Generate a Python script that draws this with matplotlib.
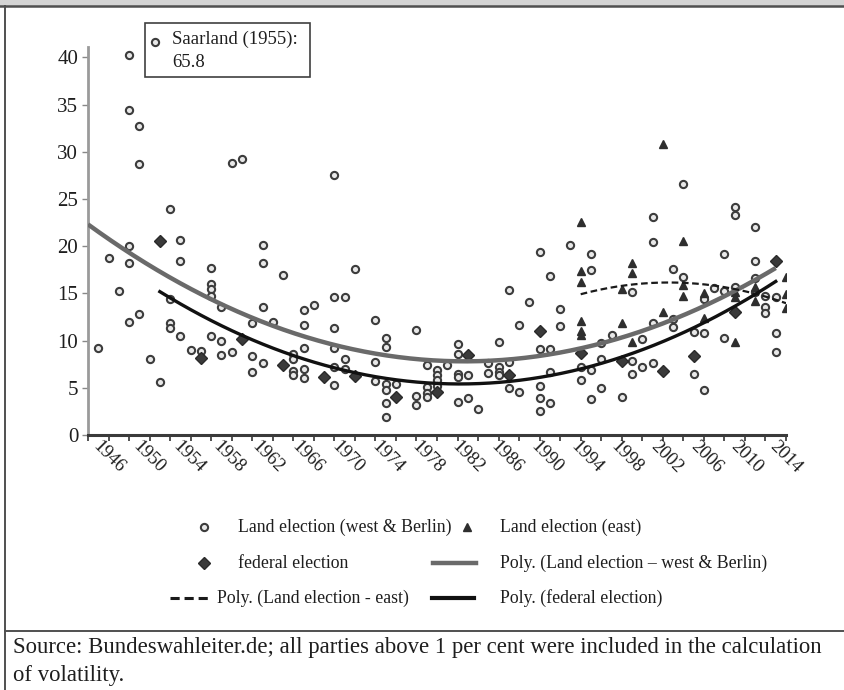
import numpy as np
import matplotlib.pyplot as plt
from matplotlib.patches import Rectangle
from matplotlib.transforms import offset_copy

plt.rcParams['font.family'] = ['Liberation Serif', 'DejaVu Serif']

# Land elections, west & Berlin (year, volatility)
west_years = [1947, 1948, 1949,
              1950, 1950, 1950, 1950, 1950,
              1951, 1951, 1951, 1952, 1953,
              1954, 1954, 1954, 1954,
              1955, 1955, 1955, 1956, 1957,
              1958, 1958, 1958, 1958, 1958,
              1959, 1959, 1959, 1960, 1960, 1961,
              1962, 1962, 1962, 1963, 1963, 1963, 1963, 1964, 1965,
              1966, 1966, 1966, 1966,
              1967, 1967, 1967, 1967, 1967, 1968,
              1970, 1970, 1970, 1970, 1970, 1970,
              1971, 1971, 1971, 1972,
              1974, 1974, 1974,
              1975, 1975, 1975, 1975, 1975, 1975, 1976,
              1978, 1978, 1978, 1979, 1979, 1979, 1979,
              1980, 1980, 1980, 1980, 1981,
              1982, 1982, 1982, 1982, 1982, 1983, 1983, 1984,
              1985, 1985, 1986, 1986, 1986, 1986,
              1987, 1987, 1987, 1988, 1988, 1989,
              1990, 1990, 1990, 1990, 1990,
              1991, 1991, 1991, 1991, 1992, 1992, 1993,
              1994, 1994, 1995, 1995, 1995, 1995,
              1996, 1996, 1996, 1997, 1998,
              1999, 1999, 1999, 2000, 2000,
              2001, 2001, 2001, 2001,
              2003, 2003, 2003, 2004, 2004, 2005, 2005,
              2006, 2006, 2006, 2007, 2008, 2008, 2008,
              2009, 2009, 2009, 2011, 2011, 2011, 2011,
              2012, 2012, 2012, 2013, 2013, 2013]
west_vals = [9.2, 18.7, 15.3,
             40.2, 34.4, 20.0, 18.2, 12.0,
             32.7, 28.7, 12.8, 8.0, 5.6,
             23.9, 14.4, 11.9, 11.3,
             20.7, 18.4, 10.5, 9.0, 8.9,
             17.7, 16.0, 15.5, 14.7, 10.5,
             13.6, 10.0, 8.5, 28.8, 8.8, 29.2,
             11.9, 8.4, 6.7, 20.1, 18.2, 13.6, 7.6, 12.0, 16.9,
             8.6, 8.0, 6.8, 6.4,
             13.2, 11.6, 9.2, 7.0, 6.0, 13.8,
             27.5, 14.6, 11.3, 9.2, 7.2, 5.3,
             14.6, 8.1, 7.0, 17.6,
             12.2, 7.7, 5.7,
             10.3, 9.3, 5.4, 4.8, 3.4, 1.9, 5.4,
             11.1, 4.1, 3.2, 7.4, 5.1, 4.4, 4.0,
             6.9, 6.35, 5.8, 5.2, 7.4,
             9.6, 8.6, 6.5, 6.1, 3.5, 6.35, 3.9, 2.8,
             7.65, 6.6, 9.9, 7.2, 6.7, 6.4,
             15.4, 7.7, 5.0, 11.6, 4.6, 14.1,
             19.4, 9.1, 5.2, 3.9, 2.5,
             16.8, 9.1, 6.7, 3.35, 13.3, 11.5, 20.1,
             7.2, 5.8, 19.2, 17.5, 6.9, 3.8,
             9.7, 8.1, 5.0, 10.6, 4.0,
             15.1, 7.8, 6.45, 10.2, 7.2,
             23.1, 20.4, 11.9, 7.6,
             17.6, 12.3, 11.4, 26.6, 16.75, 10.9, 6.45,
             14.45, 10.8, 4.8, 15.6, 19.2, 15.3, 10.3,
             24.2, 23.3, 15.7, 22.0, 18.4, 16.6, 15.2,
             14.7, 13.6, 12.95, 14.65, 10.8, 8.75]

# Saarland 1955 lies far above the axis range
saar_year = 1955
saar_val = 65.8

# Land elections, east
east_years = [1994, 1994, 1994, 1994, 1994, 1994,
              1998, 1998, 1999, 1999, 1999,
              2002, 2002, 2004, 2004, 2004,
              2006, 2006, 2009, 2009, 2009,
              2011, 2011, 2014, 2014, 2014]
east_vals = [22.6, 17.4, 16.2, 12.05, 11.0, 10.6,
             15.5, 11.9, 18.2, 17.2, 9.9,
             30.8, 13.0, 20.6, 15.9, 14.75,
             15.0, 12.4, 15.2, 14.6, 9.9,
             15.7, 14.2, 16.75, 14.9, 13.4]

# federal elections
fed_years = [1953, 1957, 1961, 1965, 1969, 1972, 1976, 1980, 1983,
             1987, 1990, 1994, 1998, 2002, 2005, 2009, 2013]
fed_vals = [20.5, 8.2, 10.2, 7.4, 6.1, 6.2, 4.05, 4.6, 8.5,
            6.35, 11.0, 8.7, 7.8, 6.75, 8.4, 13.0, 18.4]

year_ticks = list(range(1946, 2015, 4))
y_ticks = [0, 5, 10, 15, 20, 25, 30, 35, 40]


def poly_trend(xs, ys, x0, x1):
    # 2nd order polynomial trend, like a spreadsheet "Poly." trendline
    xs = np.asarray(xs, float)
    ys = np.asarray(ys, float)
    c = np.polyfit(xs - 1980, ys, 2)
    xx = np.linspace(x0, x1, 300)
    return xx, np.polyval(c, xx - 1980)


W, H = 844, 690
fig = plt.figure(figsize=(W / 100, H / 100), dpi=100)

ax = fig.add_axes([88 / W, 1 - 435 / H, (786 - 88) / W, (435 - 47) / H])
ax.set_xlim(1946, 2014)
ax.set_ylim(0, 41.1)

circ = dict(marker='o', ms=5.2, mfc='#e8e8e8', mec='#3c3c3c', mew=1.5,
            ls='none', zorder=3)
tri = dict(marker='^', ms=6.2, mfc='#2e2e2e', mec='#2e2e2e', mew=1.0,
           ls='none', zorder=4)
dia = dict(marker='D', ms=6.0, mfc='#3a3a3a', mec='#2a2a2a', mew=1.0,
           ls='none', zorder=4)

ax.plot(west_years, west_vals, **circ)
ax.plot(east_years, east_vals, **tri)
ax.plot(fed_years, fed_vals, **dia)

# trend lines
wx, wy = poly_trend(west_years, west_vals, 1946, 2013)
ax.plot(wx, wy, color='#6a6a6a', lw=3.2, zorder=5, solid_capstyle='butt')
ex, ey = poly_trend(east_years, east_vals, 1994, 2014)
ax.plot(ex, ey, color='#1a1a1a', lw=1.6, ls=(0, (3, 1.6)), zorder=5)
fx, fy = poly_trend(fed_years, fed_vals, 1953, 2013)
ax.plot(fx, fy, color='#111111', lw=2.4, zorder=5)

ax.set_xticks(year_ticks)
ax.set_xticks(range(1946, 2015, 2), minor=True)
ax.set_xticklabels([])
ax.set_yticks(y_ticks)
ax.set_yticklabels([str(v) for v in y_ticks], fontsize=15, color='#1e1e1e')
ax.tick_params(axis='x', which='both', direction='out', length=4, width=1.2,
               color='#333333')
ax.tick_params(axis='y', direction='out', length=4, width=1.0, color='#888888',
               pad=3)

# slanted year labels, spread a little narrower than the ticks
xt = ax.get_xaxis_transform()
for i, yr in enumerate(year_ticks):
    dx = 21 - 21 * i / (len(year_ticks) - 1)
    tr = offset_copy(xt, fig=fig, x=dx, y=-22, units='dots')
    ax.text(yr, 0, str(yr), transform=tr, rotation=-45, ha='center',
            va='center', rotation_mode='anchor', fontsize=13.5,
            color='#1e1e1e')

for s in ['top', 'right']:
    ax.spines[s].set_visible(False)
ax.spines['left'].set_color('#9a9a9a')
ax.spines['left'].set_linewidth(2.0)
ax.spines['bottom'].set_color('#3a3a3a')
ax.spines['bottom'].set_linewidth(2.2)

# overlay in pixel coordinates for frame, note box and legend
ov = fig.add_axes([0, 0, 1, 1], zorder=10)
ov.set_xlim(0, W)
ov.set_ylim(H, 0)
ov.axis('off')
ov.patch.set_alpha(0)

ov.add_patch(Rectangle((0, 0), W, 5.5, facecolor='#d4d4d4', edgecolor='none'))
ov.plot([0, W], [5.5, 5.5], color='#505050', lw=1.8)
ov.plot([4.5, 4.5], [5.5, H], color='#505050', lw=1.4)
ov.plot([4.5, W], [631, 631], color='#505050', lw=1.4)

# Saarland note
ov.add_patch(Rectangle((145, 23), 165, 54, facecolor='white',
                       edgecolor='#404040', lw=1.2))
ov.plot([154.5], [42], **circ)
ov.text(172, 51, 'Saarland (1955):\n%.1f' % saar_val, fontsize=13.5,
        va='center', ha='left', color='#1e1e1e', linespacing=1.45)

# legend
leg_fs = 12.8
ov.plot([204], [527], **circ)
ov.text(238, 527, 'Land election (west & Berlin)', fontsize=leg_fs,
        va='center', color='#1e1e1e')
ov.plot([467], [527], **tri)
ov.text(500, 527, 'Land election (east)', fontsize=leg_fs, va='center',
        color='#1e1e1e')
ov.plot([204], [563], **dia)
ov.text(238, 563, 'federal election', fontsize=leg_fs, va='center',
        color='#1e1e1e')
ov.plot([433, 476], [563, 563], color='#6a6a6a', lw=3.2)
ov.text(500, 563, 'Poly. (Land election \u2013 west & Berlin)', fontsize=leg_fs,
        va='center', color='#1e1e1e')
ov.plot([170, 210], [598, 598], color='#1a1a1a', lw=2.2, ls=(0, (3, 1.6)))
ov.text(217, 598, 'Poly. (Land election - east)', fontsize=leg_fs,
        va='center', color='#1e1e1e')
ov.plot([432, 474], [598, 598], color='#111111', lw=3.0)
ov.text(500, 598, 'Poly. (federal election)', fontsize=leg_fs, va='center',
        color='#1e1e1e')

ov.text(13, 648, 'Source: Bundeswahleiter.de; all parties above 1 per cent '
        'were included in the calculation', fontsize=16.4, va='center',
        color='#1e1e1e')
ov.text(13, 676, 'of volatility.', fontsize=16.4, va='center', color='#1e1e1e')

fig.savefig('out.png', dpi=100)
